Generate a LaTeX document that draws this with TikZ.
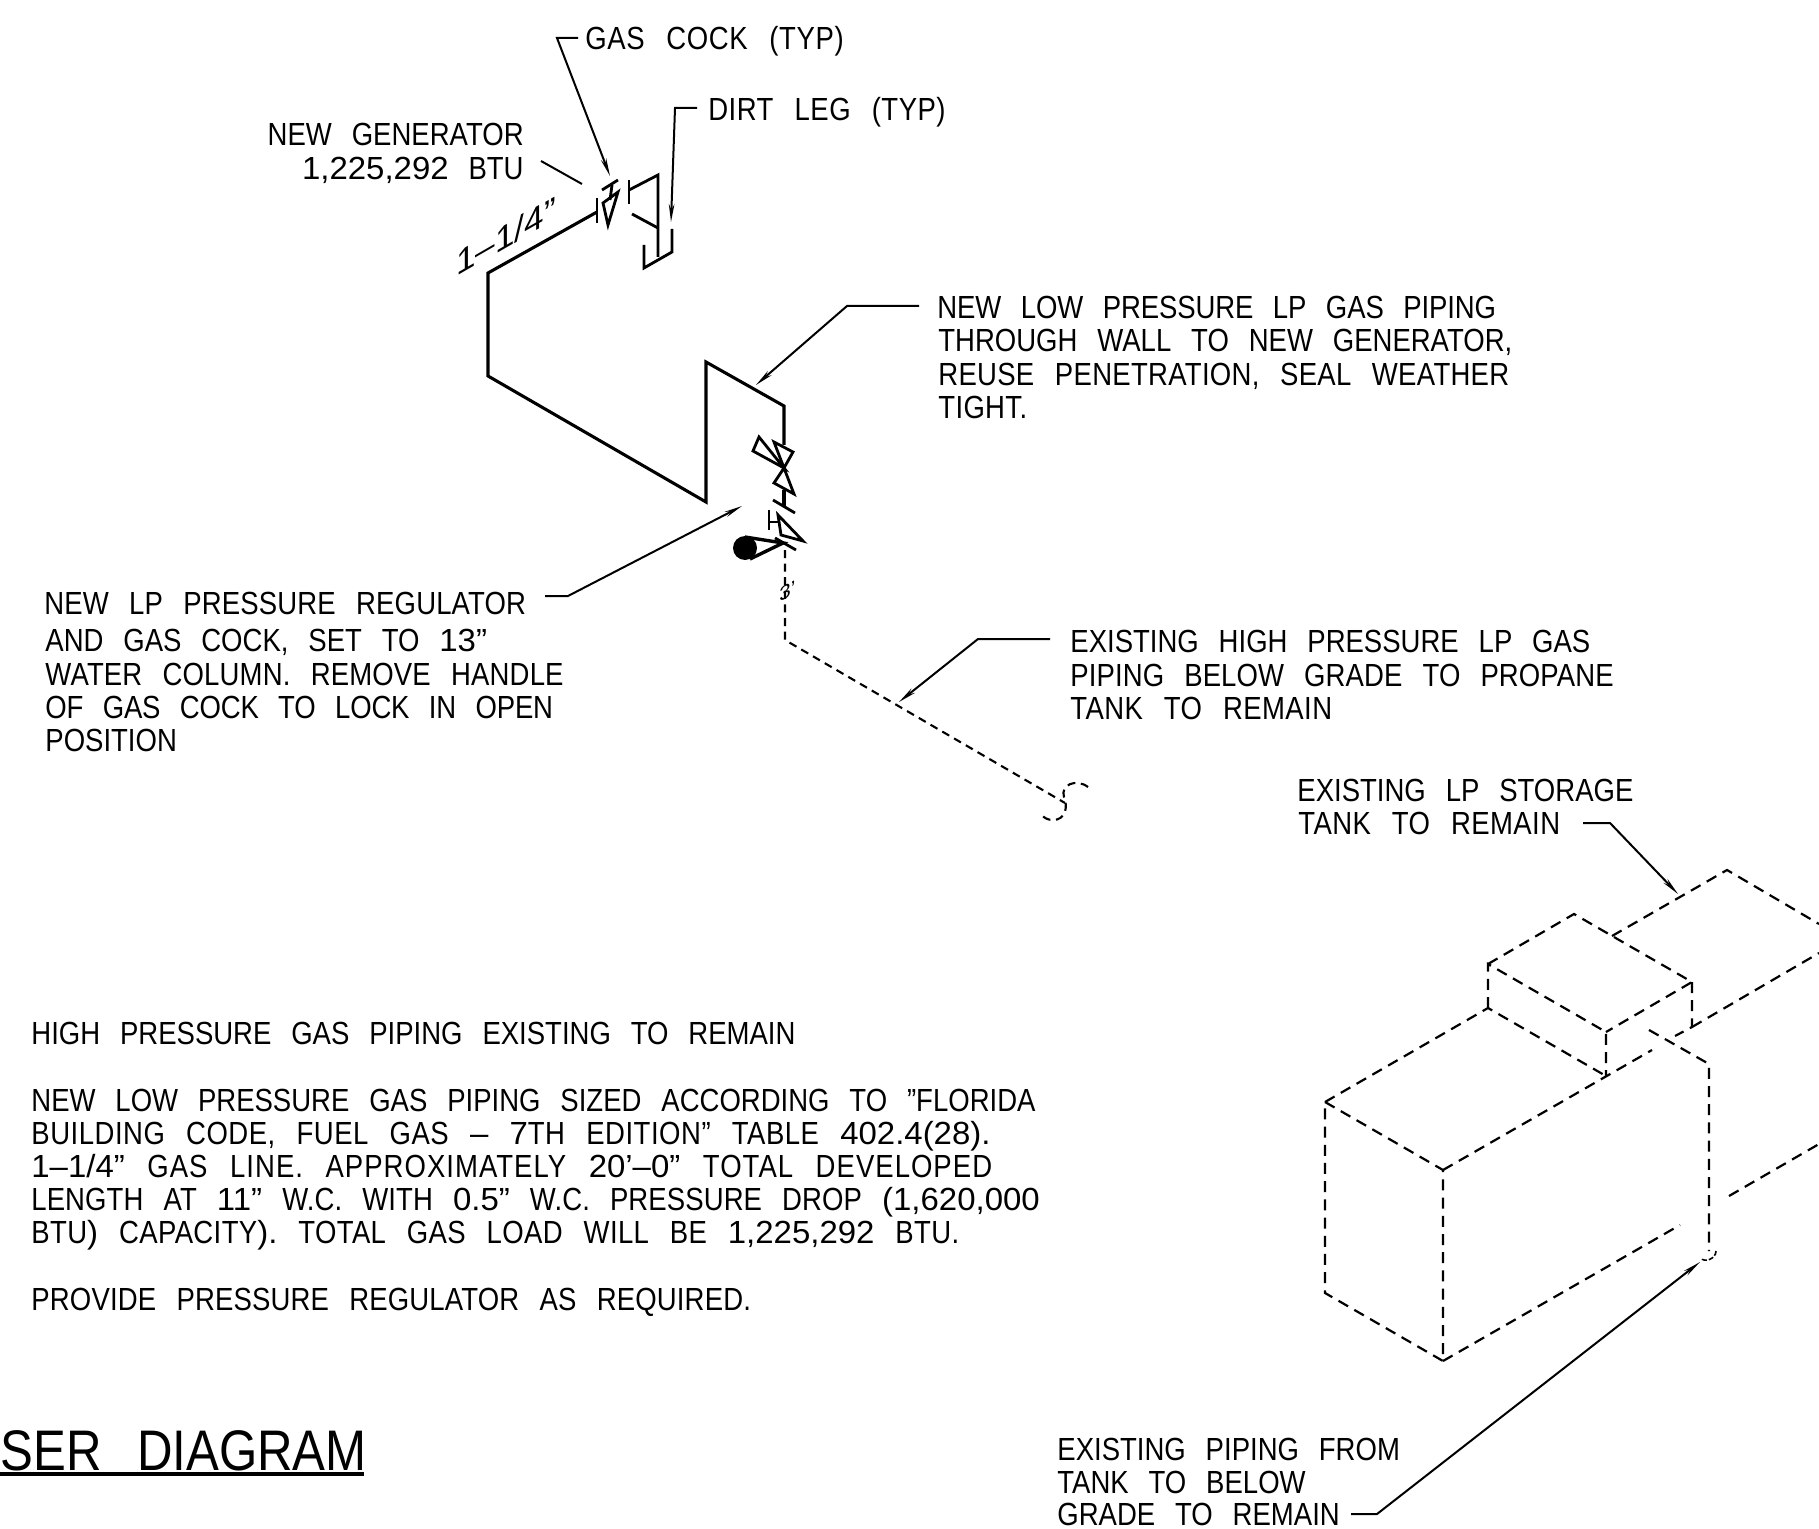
\documentclass[tikz,border=0pt]{standalone}
\usepackage{fontspec}
\setmainfont[FakeStretch=0.86,WordSpace=2.6]{Liberation Sans}
\newfontfamily\numfont[Ligatures=TeX,FakeStretch=1.03,WordSpace=1.5]{Liberation Sans}
\usetikzlibrary{arrows.meta}
\newcommand{\dgt}[1]{{\numfont #1}}
\newcommand{\ls}[1]{\addfontfeature{LetterSpace=#1}}
\tikzset{
    lbl/.style={anchor=base west, inner sep=0pt, font=\fontsize{16}{18}\selectfont},
    lblr/.style={lbl, anchor=base east},
    pipe/.style={line width=1.55pt},
    valve/.style={line width=1.4pt, line join=miter},
    dashpipe/.style={line width=1.05pt, dash pattern=on 4pt off 2.8pt},
    tank/.style={line width=1.1pt, dash pattern=on 5.5pt off 3.6pt},
    leader/.style={line width=1pt},
    tip/.style={leader, -{Stealth[length=9pt,width=2.8pt]}}
}
\begin{document}
\begin{tikzpicture}[x=0.5pt,y=-0.5pt]
    \useasboundingbox (0,0) rectangle (1819,1529);
    \clip (0,0) rectangle (1819,1529);

    % New low pressure piping
    \draw[pipe] (597,212) -- (488,273) -- (488,376) -- (706,502) -- (706,362) -- (784,406) -- (784,445);

    % Gas cock at generator
    \draw[valve] (597,198) -- (597,223);
    \draw[valve] (603,203) -- (618,192) -- (608,225) -- cycle;
    \draw[valve] (602,190) -- (618,180);
    \draw[valve] (612,185) -- (610,200);

    % Dirt leg
    \draw[valve] (629,180) -- (629,204);
    \draw[valve] (629,190) -- (658,175) -- (658,257);
    \draw[valve] (632,214) -- (658,228);
    \draw[valve] (644,245) -- (644,268) -- (672,252) -- (672,229);

    % Regulator and gas cock
    \draw[valve] (759,437) -- (753,451) -- (784,468) -- cycle;
    \draw[valve] (774,442) -- (793,452) -- (784,468) -- cycle;
    \draw[valve] (784,468) -- (774,483) -- (794,494) -- cycle;
    \draw[pipe] (784,490) -- (784,507);
    \draw[valve] (773,500) -- (795,513);
    \draw[valve] (769,510) -- (769,530);
    \draw[valve] (769,522) -- (779,522);
    \draw[valve] (778,515) -- (781,535) -- (803,541) -- cycle;
    \draw[valve] (775,538) -- (796,550);
    \fill (745,548) circle (12);
    \draw[line width=1.7pt] (745,537) -- (783,543) -- (750,559);

    % High pressure piping, below grade
    \draw[dashpipe] (785,550) -- (785,640) -- (1065,803);
    \draw[dashpipe] (1088,787) .. controls (1076,778) and (1060,785) .. (1064,797)
        .. controls (1068,806) and (1066,820) .. (1053,820) .. controls (1048,820) and (1044,818) .. (1042,815);

    % LP storage tank
    \draw[tank] (1325,1102) -- (1443,1170) -- (1443,1361) -- (1325,1293) -- cycle;
    \draw[tank] (1325,1102) -- (1488,1008) -- (1606,1076);
    \draw[tank] (1443,1170) -- (1652,1050);
    \draw[tank] (1443,1361) -- (1680,1225);
    \draw[tank] (1488,1008) -- (1488,964) -- (1606,1032) -- (1606,1076);
    \draw[tank] (1488,964) -- (1574,914) -- (1692,982) -- (1606,1032);
    \draw[tank] (1692,982) -- (1692,1027) -- (1675,1036);
    \draw[tank] (1692,1027) -- (1819,953);
    \draw[tank] (1612,936) -- (1727,870) -- (1819,924);
    \draw[tank] (1649,1030) -- (1709,1064) -- (1709,1251);
    \draw[tank] (1729,1196) -- (1819,1144);
    \draw[line width=0.8pt, dash pattern=on 2.5pt off 1pt] (1716,1251) .. controls (1716,1259) and (1704,1263) .. (1701,1258);

    % Labels
    \node[lbl] (gascock) at (585,50) {\ls{2}GAS COCK (TYP)};
    \node[lbl] (dirtleg) at (708,121) {\ls{1.5}DIRT LEG (TYP)};
    \node[lblr] (gena) at (524,146) {NEW GENERATOR};
    \node[lblr] (genb) at (524,180) {\dgt{1,225,292} BTU};
    \node[lbl] (size) at (456,277) [yslant=0.577, transform shape, font=\fontsize{17}{19}\selectfont] {\dgt{1--1/4"}};
    \node[lbl] (run) at (779,603) [yslant=0.577, transform shape, font=\fontsize{10}{12}\selectfont] {\dgt{3'}};

    \node[lbl] (lowa) at (937,319) {\ls{-0.4}NEW LOW PRESSURE LP GAS PIPING};
    \node[lbl] (lowb) at (938,352) {THROUGH WALL TO NEW GENERATOR,};
    \node[lbl] (lowc) at (938,386) {\ls{0.9}REUSE PENETRATION, SEAL WEATHER};
    \node[lbl] (lowd) at (938,419) {\ls{1}TIGHT.};

    \node[lbl] (rega) at (44,614) {\ls{0.5}NEW LP PRESSURE REGULATOR};
    \node[lbl] (regb) at (45,651) {AND GAS COCK, SET TO \dgt{13"}};
    \node[lbl] (regc) at (45,685) {\ls{0.5}WATER COLUMN. REMOVE HANDLE};
    \node[lbl] (regd) at (45,718) {\ls{-0.6}OF GAS COCK TO LOCK IN OPEN};
    \node[lbl] (rege) at (45,751) {POSITION};

    \node[lbl] (higha) at (1070,652) {EXISTING HIGH PRESSURE LP GAS};
    \node[lbl] (highb) at (1070,686) {\ls{0.3}PIPING BELOW GRADE TO PROPANE};
    \node[lbl] (highc) at (1070,719) {\ls{1.3}TANK TO REMAIN};

    \node[lbl] (tanka) at (1297,801) {EXISTING LP STORAGE};
    \node[lbl] (tankb) at (1298,834) {\ls{1.3}TANK TO REMAIN};

    \node[lbl] (notea) at (31,1044) {HIGH PRESSURE GAS PIPING EXISTING TO REMAIN};
    \node[lbl] (noteb) at (31,1111) {NEW LOW PRESSURE GAS PIPING SIZED ACCORDING TO "FLORIDA};
    \node[lbl] (notec) at (31,1144) {\ls{1.6}BUILDING CODE, FUEL GAS \dgt{--} \dgt{7}TH EDITION" TABLE \dgt{402.4(28).}};
    \node[lbl] (noted) at (31,1177) {\ls{3.2}\dgt{1--1/4"} GAS LINE. APPROXIMATELY \dgt{20'--0"} TOTAL DEVELOPED};
    \node[lbl] (notee) at (31,1210) {\ls{0.3}LENGTH AT \dgt{11"} W.C. WITH \dgt{0.5"} W.C. PRESSURE DROP \dgt{(1,620,000}};
    \node[lbl] (notef) at (31,1243) {\ls{1.2}BTU\dgt{)} CAPACITY\dgt{).} TOTAL GAS LOAD WILL BE \dgt{1,225,292} BTU.};
    \node[lbl] (noteg) at (31,1310) {\ls{0.5}PROVIDE PRESSURE REGULATOR AS REQUIRED.};

    \node[lbl] (pipinga) at (1057,1460) {EXISTING PIPING FROM};
    \node[lbl] (pipingb) at (1057,1493) {TANK TO BELOW};
    \node[lbl] (pipingc) at (1057,1525) {GRADE TO REMAIN};

    % Title
    \node[lbl, font=\fontsize{28.6}{32}\selectfont] (title) at (0,1470) {SER DIAGRAM};
    \draw[line width=1.7pt] (0,1474) -- (364,1474);

    % Leader ends
    \coordinate (cockstart) at (578,38);
    \coordinate (cockbend) at (557,38);
    \coordinate (cocktip) at (610,176);
    \coordinate (legstart) at (697,108);
    \coordinate (legbend) at (675,108);
    \coordinate (legtip) at (671,222);
    \coordinate (genstart) at (541,161);
    \coordinate (gentip) at (582,184);
    \coordinate (lowstart) at (919,306);
    \coordinate (lowbend) at (847,306);
    \coordinate (lowtip) at (756,385);
    \coordinate (regstart) at (545,596);
    \coordinate (regbend) at (568,596);
    \coordinate (regtip) at (742,506);
    \coordinate (highstart) at (1050,639);
    \coordinate (highbend) at (978,639);
    \coordinate (hightip) at (899,702);
    \coordinate (tankstart) at (1583,823);
    \coordinate (tankbend) at (1610,823);
    \coordinate (tanktip) at (1678,894);
    \coordinate (pipingstart) at (1351,1514);
    \coordinate (pipingbend) at (1377,1514);
    \coordinate (pipingtip) at (1700,1262);

    % Leaders
    \draw[tip] (cockstart) -- (cockbend) -- (cocktip);
    \draw[tip] (legstart) -- (legbend) -- (legtip);
    \draw[leader] (genstart) -- (gentip);
    \draw[tip] (lowstart) -- (lowbend) -- (lowtip);
    \draw[tip] (regstart) -- (regbend) -- (regtip);
    \draw[tip] (highstart) -- (highbend) -- (hightip);
    \draw[tip] (tankstart) -- (tankbend) -- (tanktip);
    \draw[tip] (pipingstart) -- (pipingbend) -- (pipingtip);
\end{tikzpicture}
\end{document}
